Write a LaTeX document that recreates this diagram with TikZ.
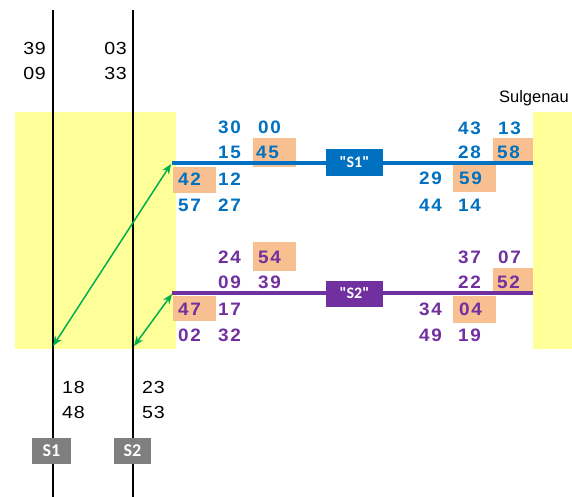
\documentclass[tikz,border=0pt]{standalone}
\usepackage{fontspec}
\setmainfont{Liberation Sans}
\usetikzlibrary{arrows.meta}
\newfontfamily\blkfont[FakeStretch=1.12,LetterSpace=4]{Liberation Sans}
\newfontfamily\numfont[FakeStretch=1.05,LetterSpace=9]{Liberation Sans}
\newfontfamily\lblfont{Carlito}
\definecolor{ylw}{HTML}{FFFF99}
\definecolor{hil}{HTML}{F8C090}
\definecolor{sblue}{HTML}{0070C0}
\definecolor{spurp}{HTML}{7030A0}
\definecolor{sgreen}{HTML}{00B050}
\definecolor{sgray}{HTML}{7F7F7F}
\tikzset{
  blk/.style={inner sep=0pt,font=\blkfont\fontsize{17.5}{17.5}\selectfont},
  bnum/.style={inner sep=0pt,anchor=west,text=sblue,font=\numfont\bfseries\fontsize{18}{18}\selectfont},
  pnum/.style={bnum,text=spurp},
  trackline/.style={line width=3.5pt},
  tag/.style={inner sep=0pt,minimum height=26pt,text=white,font=\lblfont\bfseries\fontsize{16}{16}\selectfont},
  gtag/.style={tag,fill=sgray,font=\lblfont\bfseries\fontsize{18}{18}\selectfont},
  vline/.style={line width=1.6pt,black},
  conn/.style={sgreen,line width=1.5pt,{Stealth[length=10pt,width=8pt]}-{Stealth[length=10pt,width=8pt]}},
}
\begin{document}
\begin{tikzpicture}[x=1pt,y=-1pt]
\useasboundingbox (0,0) rectangle (572,497);
% yellow areas
\fill[ylw] (15,112) rectangle (176,349);
\fill[ylw] (533,112) rectangle (572,349);
% highlights
\fill[hil] (253,138) rectangle (296,167);
\fill[hil] (173,167) rectangle (216,193);
\fill[hil] (493,138) rectangle (533,162);
\fill[hil] (453,164) rectangle (496,192);
\fill[hil] (253,242) rectangle (296,271);
\fill[hil] (173,296) rectangle (216,321);
\fill[hil] (493,268) rectangle (533,292);
\fill[hil] (453,296) rectangle (496,323);
% vertical lines
\coordinate (v1t) at (53,10); \coordinate (v1b) at (53,497);
\coordinate (v2t) at (133,10); \coordinate (v2b) at (133,497);
\draw[vline] (v1t) -- (v1b);
\draw[vline] (v2t) -- (v2b);
% track lines
\coordinate (a1) at (172,163); \coordinate (a2) at (533,163);
\coordinate (b1) at (172,293); \coordinate (b2) at (533,293);
\draw[trackline,sblue] (a1) -- (a2);
\draw[trackline,spurp] (b1) -- (b2);
\node[tag,fill=sblue,minimum width=57pt] (t1) at (354.5,162.5) {"S1"};
\node[tag,fill=spurp,minimum width=57pt] (t2) at (354.5,293.5) {"S2"};
% bottom tags
\node[gtag,minimum width=39pt] (g1) at (51.5,451) {S1};
\node[gtag,minimum width=37pt] (g2) at (132.5,451) {S2};
% black times
\node[blk,anchor=east] (k1) at (46,48) {39};
\node[blk,anchor=east] (k2) at (46,73) {09};
\node[blk,anchor=east] (k3) at (127,48) {03};
\node[blk,anchor=east] (k4) at (127,73) {33};
\node[blk,anchor=west] (k5) at (62,387) {18};
\node[blk,anchor=west] (k6) at (62,412) {48};
\node[blk,anchor=west] (k7) at (142,387) {23};
\node[blk,anchor=west] (k8) at (142,412) {53};
\node[inner sep=0pt,anchor=east,font=\fontsize{16.5}{16.5}\selectfont] (sul) at (569,98) {Sulgenau};
% blue numbers
\node[bnum] (n1) at (218,127) {30};
\node[bnum] (n2) at (258,127) {00};
\node[bnum] (n3) at (218,152) {15};
\node[bnum] (n4) at (256,152) {45};
\node[bnum] (n5) at (178,179) {42};
\node[bnum] (n6) at (218,179) {12};
\node[bnum] (n7) at (178,205) {57};
\node[bnum] (n8) at (218,205) {27};
\node[bnum] (n9) at (458,128) {43};
\node[bnum] (n10) at (498,128) {13};
\node[bnum] (n11) at (458,152) {28};
\node[bnum] (n12) at (497,152) {58};
\node[bnum] (n13) at (419,178) {29};
\node[bnum] (n14) at (459,178) {59};
\node[bnum] (n15) at (419,205) {44};
\node[bnum] (n16) at (458,205) {14};
% purple numbers
\node[pnum] (p1) at (218,257) {24};
\node[pnum] (p2) at (258,257) {54};
\node[pnum] (p3) at (218,282) {09};
\node[pnum] (p4) at (258,282) {39};
\node[pnum] (p5) at (178,309) {47};
\node[pnum] (p6) at (218,309) {17};
\node[pnum] (p7) at (178,335) {02};
\node[pnum] (p8) at (218,335) {32};
\node[pnum] (p9) at (458,257) {37};
\node[pnum] (p10) at (498,257) {07};
\node[pnum] (p11) at (458,282) {22};
\node[pnum] (p12) at (497,282) {52};
\node[pnum] (p13) at (419,309) {34};
\node[pnum] (p14) at (459,309) {04};
\node[pnum] (p15) at (419,335) {49};
\node[pnum] (p16) at (458,335) {19};
% green connectors
\coordinate (c1b) at (53,346); \coordinate (c1t) at (171,164);
\coordinate (c2b) at (134,346); \coordinate (c2t) at (172,294);
\draw[conn] (c1b) -- (c1t);
\draw[conn] (c2b) -- (c2t);
\end{tikzpicture}
\end{document}
